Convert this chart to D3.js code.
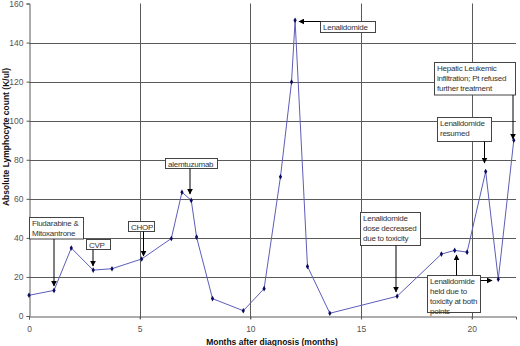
<!DOCTYPE html>
<html>
<head>
<meta charset="utf-8">
<script src="https://cdn.jsdelivr.net/npm/d3@7"></script>
<style>
  body { margin: 0; background: #fff; }
  text { font-family: Arial, "Liberation Sans", sans-serif; }
</style>
</head>
<body>
<svg id="chart" width="520" height="346"></svg>
<script>
// Months after diagnosis and absolute lymphocyte count
const months = [0, 1.13, 1.91, 2.9, 3.75, 5.09, 6.43, 6.91, 7.33, 7.57, 8.29, 9.68,
  10.62, 11.36, 11.86, 12.02, 12.58, 13.59, 16.63, 18.63, 19.23, 19.79, 20.63, 21.2, 21.9];
const counts = [10.6, 13.1, 34.8, 23.5, 24.2, 29.2, 39.7, 63.4, 59.2, 40.4, 8.9, 2.7,
  14, 71.3, 119.8, 151.4, 25.4, 1.4, 10.1, 31.7, 33.6, 32.7, 74, 18.8, 90];

const xTicks = [0, 5, 10, 15, 20];
const yTicks = [0, 20, 40, 60, 80, 100, 120, 140, 160];

const noteTexts = [
  ['Fludarabine &', 'Mitoxantrone'],
  ['CVP'],
  ['CHOP'],
  ['alemtuzumab'],
  ['Lenalidomide'],
  ['Hepatic Leukemic', 'infiltration; Pt refused', 'further treatment'],
  ['Lenalidomide', 'resumed'],
  ['Lenalidomide', 'dose decreased', 'due to toxicity'],
  ['Lenalidomide', 'held due to', 'toxicity at both', 'points']
];

// layout of the callout boxes and arrows (pixels)
const noteLayout = [
  { box: [29.5, 217.5, 54, 21.5], arrows: [[54, 239, 54, 286]] },
  { box: [86.5, 239.5, 24, 10], arrows: [[93, 249.5, 93, 266]] },
  { box: [128.5, 221.5, 26, 10], arrows: [[143.5, 231.5, 143.5, 256]] },
  { box: [165.5, 158.5, 52, 10], arrows: [[190, 168.5, 190, 194]] },
  { box: [320.5, 21.5, 55, 11], arrows: [[320.5, 21.5, 299, 21.5]] },
  { box: [434.5, 62.5, 81, 32.5], arrows: [[513, 95, 513, 139]] },
  { box: [437.5, 117.5, 54, 24], arrows: [[484.5, 141.5, 484.5, 163]] },
  { box: [360.5, 212.5, 60, 33], arrows: [[396, 245.5, 396, 292]] },
  { box: [427.5, 275.5, 53, 37], arrows: [[456.5, 275.5, 456.5, 255], [480.5, 280.5, 492, 280.5]] }
];

const svg = d3.select('#chart');
const margin = { left: 29, right: 4, top: 3.5, bottom: 30 };
const width = +svg.attr('width');
const height = +svg.attr('height');

const x = d3.scaleLinear().domain([0, 22]).range([margin.left, width - margin.right]);
const y = d3.scaleLinear().domain([0, 160]).range([height - margin.bottom, margin.top]);

const gridColor = '#5a5a5a';

// gridlines
svg.append('g')
  .selectAll('line').data(yTicks.filter(d => d > 0 && d < 160))
  .enter().append('line')
    .attr('x1', x(0)).attr('x2', x(22))
    .attr('y1', d => Math.round(y(d)) + 0.5).attr('y2', d => Math.round(y(d)) + 0.5)
    .attr('stroke', gridColor).attr('stroke-width', 1);

svg.append('g')
  .selectAll('line').data(xTicks.filter(d => d > 0))
  .enter().append('line')
    .attr('x1', d => Math.round(x(d)) + 0.5).attr('x2', d => Math.round(x(d)) + 0.5)
    .attr('y1', y(160)).attr('y2', y(0) + 3)
    .attr('stroke', gridColor).attr('stroke-width', 1);

// axes
const xAxis = svg.append('g')
  .attr('transform', `translate(0,${Math.round(y(0)) + 0.5})`)
  .call(d3.axisBottom(x).tickValues(xTicks).tickSize(3).tickPadding(6));
const yAxis = svg.append('g')
  .attr('transform', `translate(${Math.round(x(0)) + 0.5},0)`)
  .call(d3.axisLeft(y).tickValues(yTicks).tickSize(3).tickPadding(3));

[xAxis, yAxis].forEach(a => {
  a.select('.domain').attr('stroke', gridColor);
  a.selectAll('.tick line').attr('stroke', gridColor);
  a.selectAll('.tick text')
    .attr('fill', '#555')
    .style('font-size', '8.5px')
    .style('font-family', 'Arial, "Liberation Sans", sans-serif');
});

// axis titles
svg.append('text')
  .attr('x', 272).attr('y', 345)
  .attr('text-anchor', 'middle')
  .style('font-size', '8.5px').style('font-weight', 'bold')
  .attr('fill', '#111')
  .text('Months after diagnosis (months)');

svg.append('text')
  .attr('transform', 'translate(9,137) rotate(-90)')
  .attr('text-anchor', 'middle')
  .style('font-size', '8.5px').style('font-weight', 'bold')
  .attr('fill', '#111')
  .text('Absolute Lymphocyte count (K/ul)');

// the series
const points = months.map((m, i) => [m, counts[i]]);
const line = d3.line().x(d => x(d[0])).y(d => y(d[1]));

svg.append('path')
  .datum(points)
  .attr('d', line)
  .attr('fill', 'none')
  .attr('stroke', '#5d5db8')
  .attr('stroke-width', 1);

svg.append('g')
  .selectAll('path').data(points)
  .enter().append('path')
    .attr('d', d3.symbol().type(d3.symbolDiamond).size(9))
    .attr('transform', d => `translate(${x(d[0])},${y(d[1])})`)
    .attr('fill', '#0a0a60');

// arrowhead
svg.append('defs').append('marker')
  .attr('id', 'head')
  .attr('viewBox', '0 0 10 10')
  .attr('refX', 9).attr('refY', 5)
  .attr('markerWidth', 6).attr('markerHeight', 6)
  .attr('markerUnits', 'userSpaceOnUse')
  .attr('orient', 'auto')
  .append('path').attr('d', 'M0,0 L10,5 L0,10 Z').attr('fill', '#000');

// callouts
const notes = svg.append('g').selectAll('g')
  .data(noteTexts.map((t, i) => ({ lines: t, ...noteLayout[i] })))
  .enter().append('g');

notes.append('rect')
  .attr('x', d => d.box[0]).attr('y', d => d.box[1])
  .attr('width', d => d.box[2]).attr('height', d => d.box[3])
  .attr('fill', '#fff').attr('stroke', '#444').attr('stroke-width', 1);

notes.each(function(d) {
  const g = d3.select(this);
  const t = g.append('text')
    .attr('fill', '#333')
    .style('font-size', '8px')
    .style('letter-spacing', '-0.25px');
  d.lines.forEach((l, i) => {
    t.append('tspan')
      .attr('x', Math.round(d.box[0] + 2))
      .attr('y', Math.round(d.box[1] + 8 + i * 10))
      .text(l);
  });
  d.arrows.forEach(a => {
    g.append('line')
      .attr('x1', a[0]).attr('y1', a[1]).attr('x2', a[2]).attr('y2', a[3])
      .attr('stroke', '#000').attr('stroke-width', 1)
      .attr('marker-end', 'url(#head)');
  });
});
</script>
</body>
</html>
